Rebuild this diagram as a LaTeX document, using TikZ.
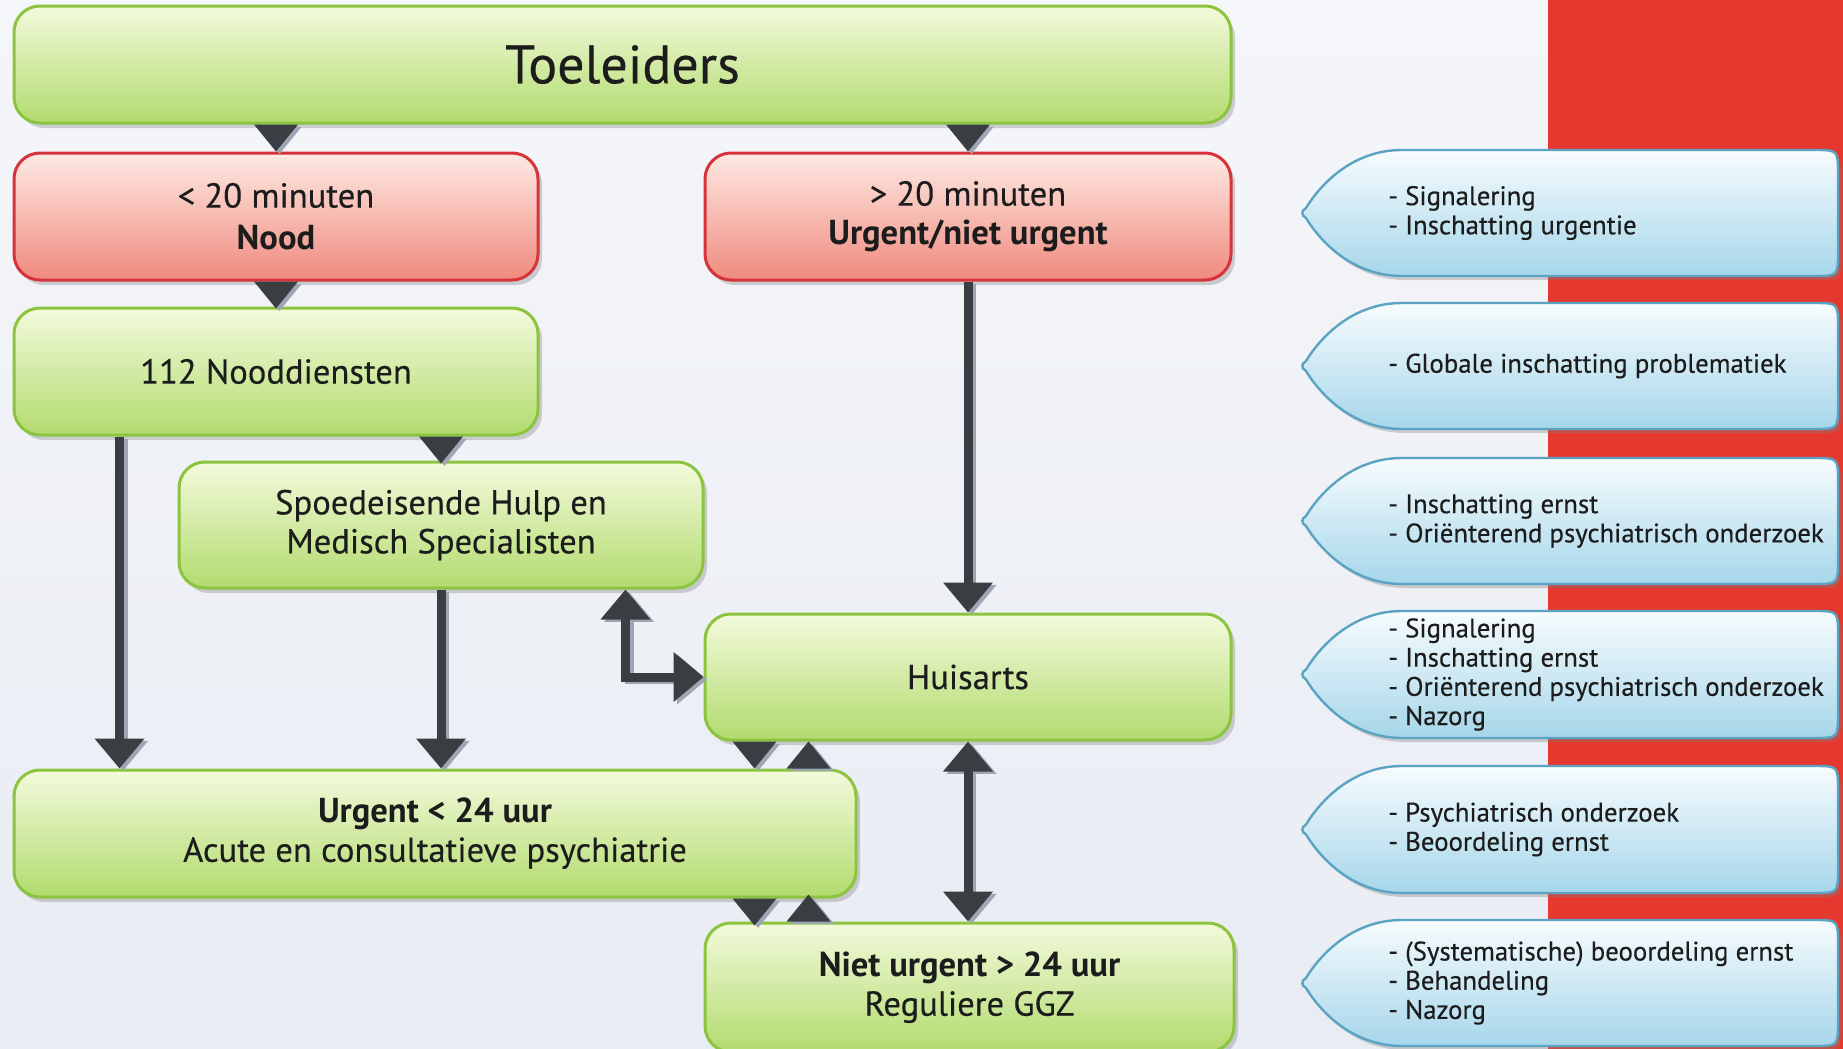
\documentclass[tikz,border=0pt]{standalone}
\usepackage{fontspec}
\setmainfont{PT Sans}[UprightFeatures={FakeBold=0.35}]
\usetikzlibrary{arrows.meta,shadows,calc}
\definecolor{bgtop}{HTML}{F5F6F9}
\definecolor{bgbot}{HTML}{E8ECF3}
\definecolor{redstrip}{HTML}{E5392F}
\definecolor{gborder}{HTML}{8CC43F}
\definecolor{gtop}{HTML}{F3FADC}
\definecolor{gbot}{HTML}{B2DB6E}
\definecolor{rborder}{HTML}{D6343A}
\definecolor{rtop}{HTML}{FDEAE4}
\definecolor{rbot}{HTML}{F08A7E}
\definecolor{cborder}{HTML}{5AA3C2}
\definecolor{ctop}{HTML}{F7FCFE}
\definecolor{cbot}{HTML}{A6D6EA}
\definecolor{arrc}{HTML}{3A3D41}
\definecolor{arrsh}{HTML}{9EA6B6}
\definecolor{txt}{HTML}{1C1C1C}
\tikzset{
  gbox/.style={draw=gborder, line width=1.5pt, rounded corners=13pt,
    top color=gtop, bottom color=gbot,
    drop shadow={shadow xshift=2pt, shadow yshift=-2.5pt, opacity=0.35},
    text=txt, align=center, font=\fontsize{17.3}{19.5}\selectfont, inner sep=0pt},
  rbox/.style={gbox, draw=rborder, top color=rtop, bottom color=rbot},
  arr/.style={draw=arrc, line width=4.5pt, -{Triangle[width=24pt,length=15pt]}},
  darr/.style={draw=arrc, line width=4.5pt, {Triangle[width=24pt,length=15pt]}-{Triangle[width=24pt,length=15pt]}},
  tri/.style={fill=arrc},
  callout/.style={draw=cborder, line width=1.2pt, top color=ctop, bottom color=cbot,
    drop shadow={shadow xshift=1.5pt, shadow yshift=-2pt, opacity=0.35}},
  ctext/.style={anchor=west, align=left, font=\fontsize{13.4}{14.6}\selectfont, text=txt, inner sep=0pt},
}
\newcommand\mycallout[4]{%
  \path[callout] (1306,{(#2+#3)/2-5}) .. controls (1320,{(#2+#3)/2-28}) and (1352,#2) .. (1402,#2)
    -- (1814,#2) .. controls (1838,#2) .. (1838,{#2+24}) -- (1838,{#3-24})
    .. controls (1838,#3) .. (1814,#3) -- (1402,#3)
    .. controls (1352,#3) and (1320,{(#2+#3)/2+28}) .. (1306,{(#2+#3)/2+5})
    .. controls (1301,{(#2+#3)/2+2}) and (1301,{(#2+#3)/2-2}) .. cycle;
  \node[ctext] (#1) at (1388,{(#2+#3)/2}) {#4};
}
\newcommand\downtri[1]{%
  \fill[arrsh, transform canvas={shift={(1.8pt,-1.2pt)}}] #1 ++(-22,0) -- ++(44,0) -- ++(-22,27) -- cycle;
  \fill[tri] #1 ++(-22,0) -- ++(44,0) -- ++(-22,27) -- cycle;
}
\newcommand\uptri[1]{%
  \fill[arrsh, transform canvas={shift={(1.8pt,-1.2pt)}}] #1 ++(-22,0) -- ++(44,0) -- ++(-22,-27) -- cycle;
  \fill[tri] #1 ++(-22,0) -- ++(44,0) -- ++(-22,-27) -- cycle;
}
\begin{document}
\begin{tikzpicture}[x=0.5pt, y=-0.5pt]
\useasboundingbox (0,0) rectangle (1843,1049);
\clip (0,0) rectangle (1843,1049);
\shade[top color=bgtop, bottom color=bgbot] (0,0) rectangle (1843,1049);
\fill[redstrip] (1548,0) rectangle (1843,1049);

% boxes
\node[gbox, minimum width=608.5pt, minimum height=58.5pt, font=\fontsize{27}{30}\selectfont] (toe) at (622.5,64.5) {Toeleiders};
\node[rbox, minimum width=262pt, minimum height=63.5pt] (nood) at (276,216.5) {< 20 minuten\\[1.5pt]\textbf{Nood}};
\node[rbox, minimum width=263pt, minimum height=63.5pt] (unu) at (968,216.5) {> 20 minuten\\\textbf{Urgent/niet urgent}};
\node[gbox, minimum width=262pt, minimum height=63.5pt] (n112) at (276,371.5) {112 Nooddiensten};
\node[gbox, minimum width=262pt, minimum height=63pt] (spoed) at (441,525) {Spoedeisende Hulp en\\Medisch Specialisten};
\node[gbox, minimum width=263pt, minimum height=63pt] (huis) at (968,677) {Huisarts};
\node[gbox, minimum width=421pt, minimum height=63.5pt] (urg) at (435,833.5) {\textbf{Urgent < 24 uur}\\Acute en consultatieve psychiatrie};
\node[gbox, minimum width=264.5pt, minimum height=64.5pt] (niet) at (969.5,987.5) {\textbf{Niet urgent > 24 uur}\\Reguliere GGZ};

% triangles
\downtri{(toe.south -| nood.north)}
\downtri{(toe.south -| unu.north)}
\downtri{(nood.south)}
\downtri{(n112.south -| spoed.north)}
\downtri{($(huis.south west)+(51,0)$)}
\uptri{($(urg.north west)+(796,0)$)}
\downtri{($(urg.south west)+(742,0)$)}
\uptri{($(niet.north west)+(105,0)$)}

% arrows (shadows first)
\draw[arr, draw=arrsh, transform canvas={shift={(1.8pt,-1.2pt)}}] ($(n112.south west)+(107,0)$) -- ($(urg.north west)+(107,0)$);
\draw[arr] ($(n112.south west)+(107,0)$) -- ($(urg.north west)+(107,0)$);
\draw[arr, draw=arrsh, transform canvas={shift={(1.8pt,-1.2pt)}}] (spoed.south) -- (spoed.south |- urg.north);
\draw[arr] (spoed.south) -- (spoed.south |- urg.north);
\draw[arr, draw=arrsh, transform canvas={shift={(1.8pt,-1.2pt)}}] (unu.south) -- (huis.north);
\draw[arr] (unu.south) -- (huis.north);
\draw[darr, draw=arrsh, transform canvas={shift={(1.8pt,-1.2pt)}}] (huis.south) -- (huis.south |- niet.north);
\draw[darr] (huis.south) -- (huis.south |- niet.north);
\draw[darr, draw=arrsh, transform canvas={shift={(1.8pt,-1.2pt)}}] (huis.west) -| ($(spoed.south west)+(448,0)$);
\draw[darr] (huis.west) -| ($(spoed.south west)+(448,0)$);

% callouts
\mycallout{c1}{150}{276}{- Signalering\\- Inschatting urgentie}
\mycallout{c2}{303}{429}{- Globale inschatting problematiek}
\mycallout{c3}{458}{584}{- Inschatting ernst\\- Oriënterend psychiatrisch onderzoek}
\mycallout{c4}{611}{738}{- Signalering\\- Inschatting ernst\\- Oriënterend psychiatrisch onderzoek\\- Nazorg}
\mycallout{c5}{766}{893}{- Psychiatrisch onderzoek\\- Beoordeling ernst}
\mycallout{c6}{920}{1046}{- (Systematische) beoordeling ernst\\- Behandeling\\- Nazorg}
\end{tikzpicture}
\end{document}
